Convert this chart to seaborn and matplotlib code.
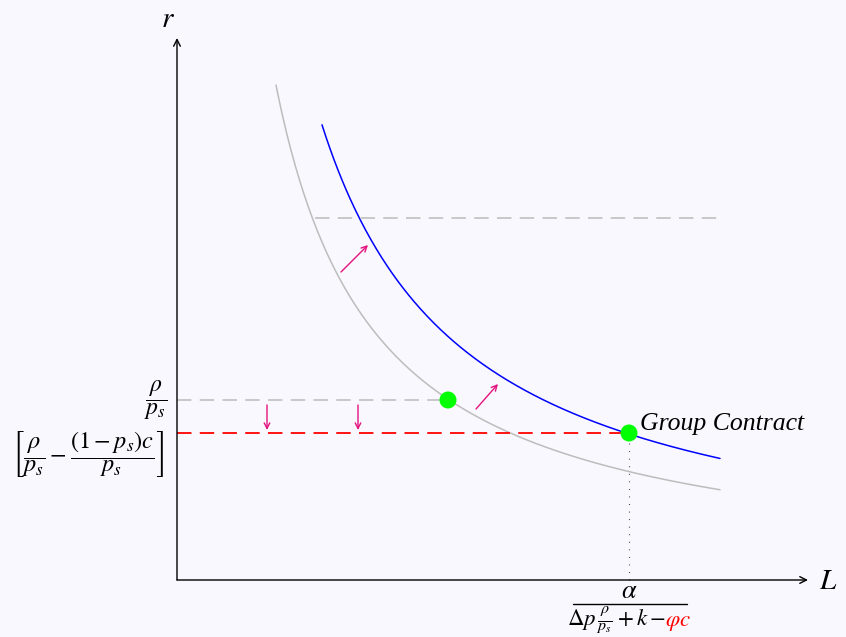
import numpy as np
import pandas as pd
import matplotlib
matplotlib.use("Agg")
import matplotlib.pyplot as plt
import seaborn as sns

sns.set_theme(style="white")
plt.rcParams["mathtext.fontset"] = "stix"
plt.rcParams["font.family"] = ["Liberation Serif", "DejaVu Serif"]
plt.rcParams["text.color"] = "black"

BG = "#f8f8fe"
PINK = "#e5127f"

# ---- data ----
curve_const = {"gray": 4.90, "blue": 6.60}        # r = const / L
curve_L_range = {"gray": (0.99, 5.43), "blue": (1.45, 5.43)}
upper_dash = dict(r=3.62, L0=1.38, L1=5.47)
rho_level = 1.80          # rho / p_s
group_level = 1.47        # [rho/p_s - (1-p_s)c/p_s]
point_L = [2.71, 4.52]
point_r = [1.80, 1.47]
shift_arrows = [((1.64, 3.08), (1.91, 3.35)), ((2.99, 1.71), (3.21, 1.96))]
down_arrows_L = [0.90, 1.81]
down_arrow_r = (1.75, 1.50)
x_axis_end = 6.31
y_axis_end = 5.42

fig = plt.figure(figsize=(8.46, 6.37), dpi=100, facecolor=BG)
ax = fig.add_axes([0, 0, 1, 1])
ax.set_facecolor(BG)
ax.set_xlim(-1.77, 6.69)
ax.set_ylim(-0.57, 5.80)
ax.axis("off")

# curves
rows = []
for name, c in curve_const.items():
    Ls = np.linspace(*curve_L_range[name], 300)
    for L in Ls:
        rows.append({"L": L, "r": c / L, "curve": name})
df = pd.DataFrame(rows)
sns.lineplot(data=df, x="L", y="r", hue="curve", palette={"gray": "#bdbdbd", "blue": "#0000ff"},
             sort=False, lw=1.1, legend=False, ax=ax, estimator=None)

# dashed lines
ax.plot([upper_dash["L0"], upper_dash["L1"]], [upper_dash["r"]] * 2, color="#c4c4c4",
        lw=1.3, linestyle=(0, (8.0, 4.6)))
ax.plot([0, point_L[0]], [rho_level] * 2, color="#c4c4c4", lw=1.3, linestyle=(0, (8.0, 4.6)))
ax.plot([0, point_L[1]], [group_level] * 2, color="#ff0000", lw=1.3, linestyle=(0, (8.0, 4.6)))
ax.plot([point_L[1]] * 2, [0, group_level], color="#333333", lw=0.8, linestyle=(0, (0.8, 6)))

# axes arrows
ax.annotate("", xy=(x_axis_end, 0), xytext=(0, 0),
            arrowprops=dict(arrowstyle="->", color="black", lw=1.0, mutation_scale=12, shrinkA=0, shrinkB=0))
ax.annotate("", xy=(0, y_axis_end), xytext=(0, 0),
            arrowprops=dict(arrowstyle="->", color="black", lw=1.0, mutation_scale=12, shrinkA=0, shrinkB=0))
ax.text(-0.09, 5.60, r"$r$", fontsize=21, ha="center", va="center")
ax.text(6.51, -0.02, r"$L$", fontsize=21, ha="center", va="center")

# pink arrows
for (a, b) in shift_arrows:
    ax.annotate("", xy=b, xytext=a,
                arrowprops=dict(arrowstyle="->", color=PINK, lw=1.0, mutation_scale=10, shrinkA=0, shrinkB=0))
for L in down_arrows_L:
    ax.annotate("", xy=(L, down_arrow_r[1]), xytext=(L, down_arrow_r[0]),
                arrowprops=dict(arrowstyle="->", color=PINK, lw=1.0, mutation_scale=10, shrinkA=0, shrinkB=0))

# points
sns.scatterplot(x=point_L, y=point_r, color="#00ff00", s=150, edgecolor="none", ax=ax, zorder=5, legend=False)

ax.text(4.63, 1.56, "Group Contract", fontsize=18.5, style="italic", ha="left", va="center")

# y labels
ax.text(-0.10, 1.80, r"$\dfrac{\rho}{p_s}$", fontsize=17, ha="right", va="center")
ax.text(-0.12, 1.26, r"$\left[\dfrac{\rho}{p_s}-\dfrac{(1-p_s)c}{p_s}\right]$", fontsize=17.5,
        ha="right", va="center")

# x label fraction
ax.text(4.52, -0.115, r"$\alpha$", fontsize=19, ha="center", va="center")
ax.plot([3.96, 5.10], [-0.235, -0.235], color="black", lw=1.0)
t1 = ax.text(0, -0.46, r"$\Delta p\,\frac{\rho}{p_s}+k-$", fontsize=16.5, ha="left", va="baseline")
t2 = ax.text(0, -0.46, r"$\varphi c$", fontsize=16.5, ha="left", va="baseline", color="#ff0000")
fig.canvas.draw()
ren = fig.canvas.get_renderer()
w1 = t1.get_window_extent(ren).width
w2 = t2.get_window_extent(ren).width
xc, yb = ax.transData.transform((4.52, -0.46))
inv = ax.transData.inverted()
t1.set_position(inv.transform((xc - (w1 + w2) / 2, yb)))
t2.set_position(inv.transform((xc - (w1 + w2) / 2 + w1, yb)))

fig.savefig("out.png", dpi=100, facecolor=BG)
